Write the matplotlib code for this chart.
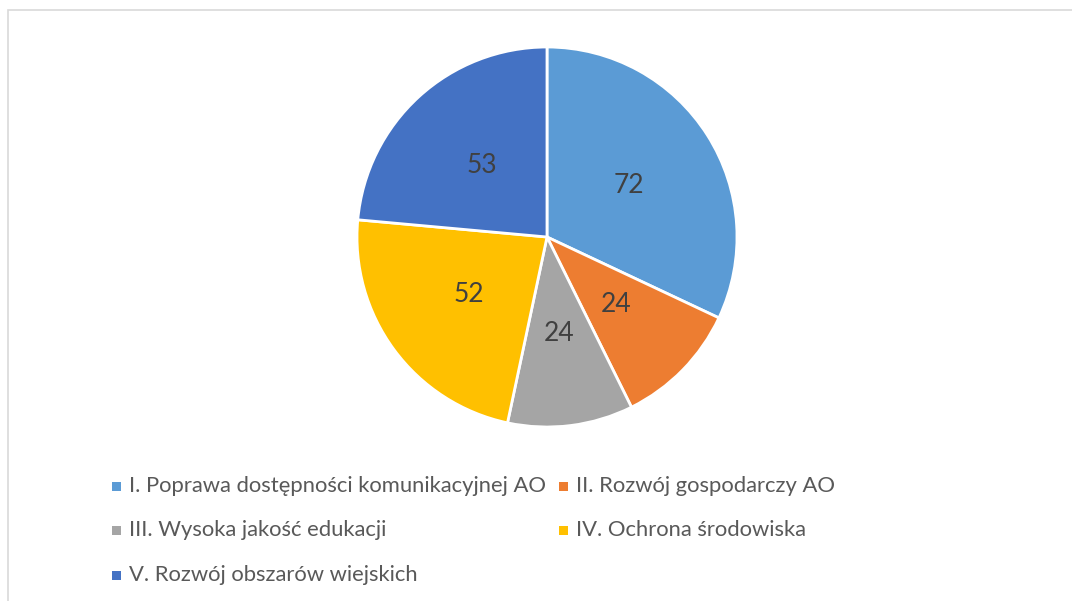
import matplotlib.pyplot as plt
from matplotlib.patches import Rectangle

categories = [
    "I. Poprawa dostępności komunikacyjnej AO",
    "II. Rozwój gospodarczy AO",
    "III. Wysoka jakość edukacji",
    "IV. Ochrona środowiska",
    "V. Rozwój obszarów wiejskich",
]
values = [72, 24, 24, 52, 53]
colors = ["#5B9BD5", "#ED7D31", "#A5A5A5", "#FFC000", "#4472C4"]

plt.rcParams['font.family'] = ['Lato', 'DejaVu Sans']

W, H = 1072, 601
fig = plt.figure(figsize=(W / 100, H / 100), dpi=100)

# chart frame (cut off at right and bottom)
fig.patches.append(Rectangle((8 / W, -0.1), 1.2, (H - 10) / H + 0.1,
                             transform=fig.transFigure, fill=False,
                             edgecolor="#D9D9D9", linewidth=1.2))

cx, cy, r = 547, 237, 190
ax = fig.add_axes([(cx - r) / W, (H - cy - r) / H, 2 * r / W, 2 * r / H])
wedges, texts = ax.pie(values, colors=colors, startangle=90, counterclock=False,
                       wedgeprops=dict(edgecolor="white", linewidth=2),
                       labels=[str(v) for v in values], labeldistance=0.51,
                       textprops=dict(fontsize=19, color="#404040",
                                      ha="center", va="center"))
ax.set_xlim(-1.0, 1.0)
ax.set_ylim(-1.0, 1.0)
ax.set_aspect("equal")

# legend, laid out row by row like the original
col_x = [116, 563]
row_y = [486, 530, 575]
for i, (name, c) in enumerate(zip(categories, colors)):
    x = col_x[i % 2]
    y = row_y[i // 2]
    fig.patches.append(Rectangle(((x - 4.5) / W, (H - y - 4.5) / H), 9 / W, 9 / H,
                                 transform=fig.transFigure, facecolor=c,
                                 edgecolor="none"))
    fig.text((x + 13) / W, (H - y) / H, name, fontsize=15.8, color="#595959",
             ha="left", va="center")

fig.savefig("out.png", dpi=100)
